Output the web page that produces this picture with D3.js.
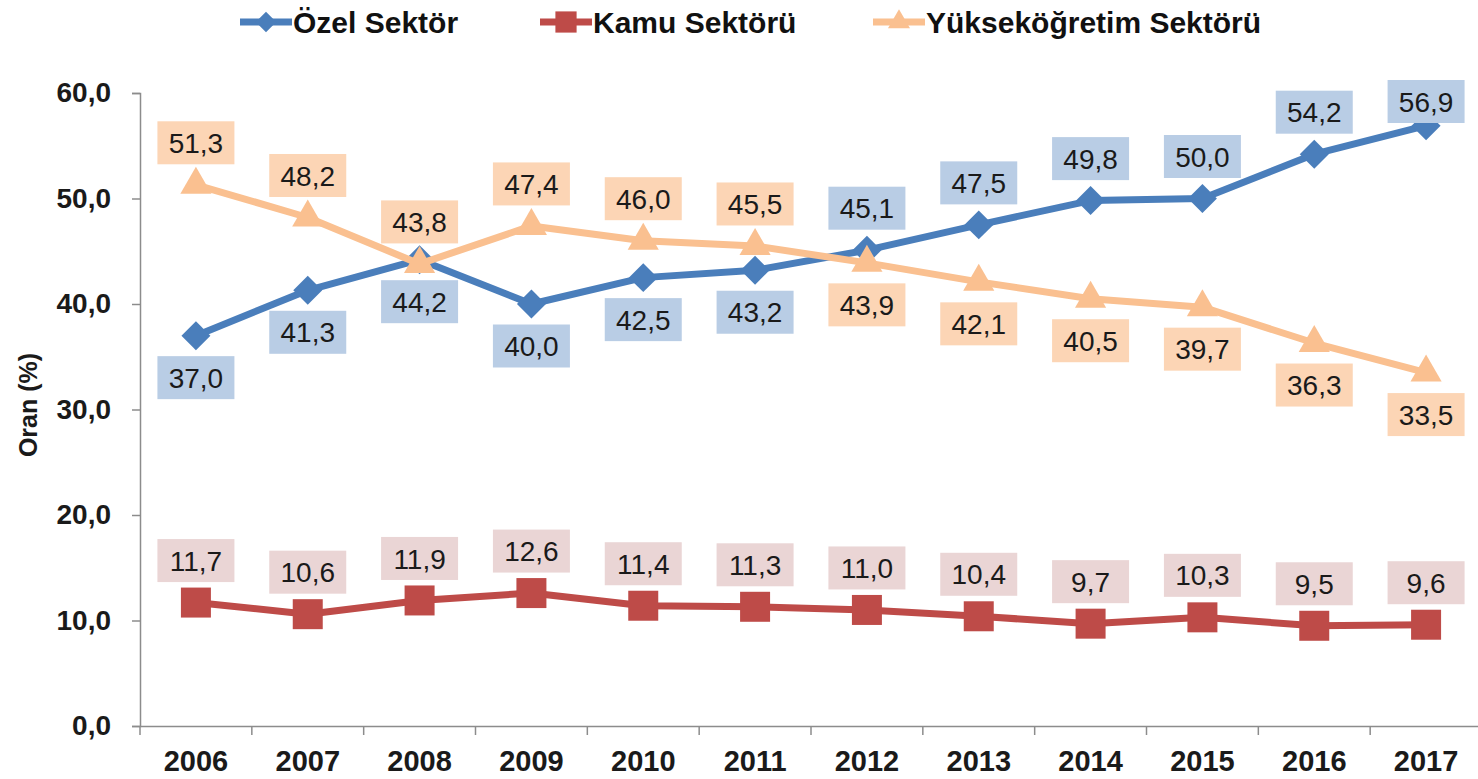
<!DOCTYPE html>
<html>
<head>
<meta charset="utf-8">
<script src="https://cdn.jsdelivr.net/npm/d3@7"></script>
<style>
    body { margin: 0; background: #fff; }
    #chart { display: block; }
    text { font-family: "Liberation Sans", Arial, sans-serif; }
</style>
</head>
<body>
<svg id="chart" width="1478" height="779"></svg>
<script>
    const years = [2006, 2007, 2008, 2009, 2010, 2011, 2012, 2013, 2014, 2015, 2016, 2017];
    const ozelSektor = [37.0, 41.3, 44.2, 40.0, 42.5, 43.2, 45.1, 47.5, 49.8, 50.0, 54.2, 56.9];
    const kamuSektoru = [11.7, 10.6, 11.9, 12.6, 11.4, 11.3, 11.0, 10.4, 9.7, 10.3, 9.5, 9.6];
    const yuksekSektoru = [51.3, 48.2, 43.8, 47.4, 46.0, 45.5, 43.9, 42.1, 40.5, 39.7, 36.3, 33.5];
    // label side per point: true = above
    const ozelAbove = [false, false, false, false, false, false, true, true, true, true, true, true];
    const yuksekAbove = [true, true, true, true, true, true, false, false, false, false, false, false];
    const yTicks = [0, 10, 20, 30, 40, 50, 60];

    const series = [
        { name: "Özel Sektör", values: ozelSektor, above: ozelAbove, color: "#4a7ebb", bg: "#b9cde5", symbol: d3.symbolSquare, size: 420, rot: 45 },
        { name: "Kamu Sektörü", values: kamuSektoru, above: years.map(() => true), color: "#be4b48", bg: "#ead5d5", symbol: d3.symbolSquare, size: 900, rot: 0 },
        { name: "Yükseköğretim Sektörü", values: yuksekSektoru, above: yuksekAbove, color: "#fac090", bg: "#fcd5b5", symbol: d3.symbolTriangle, size: 420, rot: 0 }
    ];

    const svg = d3.select("#chart");
    const fmt = v => d3.format(".1f")(v).replace(".", ",");

    const x = d3.scaleBand().domain(years).range([140, 1482]).padding(0);
    const y = d3.scaleLinear().domain([0, 60]).range([726, 93]);
    const cx = d => x(d) + x.bandwidth() / 2;

    // y axis
    const yAxis = svg.append("g")
        .attr("transform", "translate(140,0)")
        .call(d3.axisLeft(y).tickValues(yTicks).tickFormat(fmt).tickSize(8).tickPadding(21));
    yAxis.select(".domain").attr("stroke", "#8c8c8c").attr("stroke-width", 1.5);
    yAxis.selectAll(".tick line").attr("stroke", "#8c8c8c").attr("stroke-width", 1.5);
    yAxis.selectAll(".tick text")
        .attr("font-size", 28).attr("font-weight", "bold").attr("fill", "#1a1a1a")
        .attr("font-family", "Liberation Sans, Arial, sans-serif");

    // x axis
    const xAxis = svg.append("g")
        .attr("transform", "translate(0,726)")
        .call(d3.axisBottom(x).tickSize(0).tickPadding(24));
    xAxis.select(".domain").attr("stroke", "#8c8c8c").attr("stroke-width", 1.5);
    xAxis.selectAll(".tick text")
        .attr("font-size", 29).attr("font-weight", "bold").attr("fill", "#1a1a1a")
        .attr("font-family", "Liberation Sans, Arial, sans-serif");
    xAxis.selectAll(".boundary")
        .data(years)
        .join("line")
        .attr("x1", d => x(d)).attr("x2", d => x(d))
        .attr("y1", 0).attr("y2", 9)
        .attr("stroke", "#8c8c8c").attr("stroke-width", 1.5);

    // axis title
    svg.append("text")
        .attr("transform", "translate(37,405) rotate(-90)")
        .attr("text-anchor", "middle")
        .attr("font-size", 25).attr("font-weight", "bold").attr("fill", "#1a1a1a")
        .text("Oran (%)");

    // lines and markers
    const line = d3.line().x((d, i) => cx(years[i])).y(d => y(d));
    series.forEach(s => {
        svg.append("path")
            .datum(s.values)
            .attr("d", line)
            .attr("fill", "none")
            .attr("stroke", s.color)
            .attr("stroke-width", 7)
            .attr("stroke-linejoin", "round");
        svg.append("g").selectAll("path")
            .data(s.values)
            .join("path")
            .attr("d", d3.symbol().type(s.symbol).size(s.size))
            .attr("transform", (d, i) => `translate(${cx(years[i])},${y(d)}) rotate(${s.rot})`)
            .attr("fill", s.color);
    });

    // data labels (kept inside the plot top edge)
    const boxW = 77, boxH = 43, gap = 42, topLimit = 80;
    series.forEach(s => {
        const g = svg.append("g").selectAll("g")
            .data(s.values)
            .join("g")
            .attr("transform", (d, i) => {
                let cy = y(d) + (s.above[i] ? -gap : gap);
                cy = Math.max(cy, topLimit + boxH / 2);
                return `translate(${cx(years[i])},${cy})`;
            });
        g.append("rect")
            .attr("x", -boxW / 2).attr("y", -boxH / 2)
            .attr("width", boxW).attr("height", boxH)
            .attr("fill", s.bg);
        g.append("text")
            .attr("text-anchor", "middle")
            .attr("dy", "0.36em")
            .attr("font-size", 28)
            .attr("fill", "#1a1a1a")
            .text(d => fmt(d));
    });

    // legend
    const legendX = [240, 540, 873];
    const legend = svg.append("g").selectAll("g")
        .data(series)
        .join("g")
        .attr("transform", (d, i) => `translate(${legendX[i]},22)`);
    legend.append("line")
        .attr("x1", 0).attr("x2", 52)
        .attr("stroke", d => d.color).attr("stroke-width", 7);
    legend.append("path")
        .attr("d", d => d3.symbol().type(d.symbol).size(d.size * 0.5)())
        .attr("transform", d => `translate(26,0) rotate(${d.rot})`)
        .attr("fill", d => d.color);
    legend.append("text")
        .attr("x", 53)
        .attr("dy", "0.36em")
        .attr("font-size", 30).attr("font-weight", "bold").attr("fill", "#111")
        .text(d => d.name);
</script>
</body>
</html>
